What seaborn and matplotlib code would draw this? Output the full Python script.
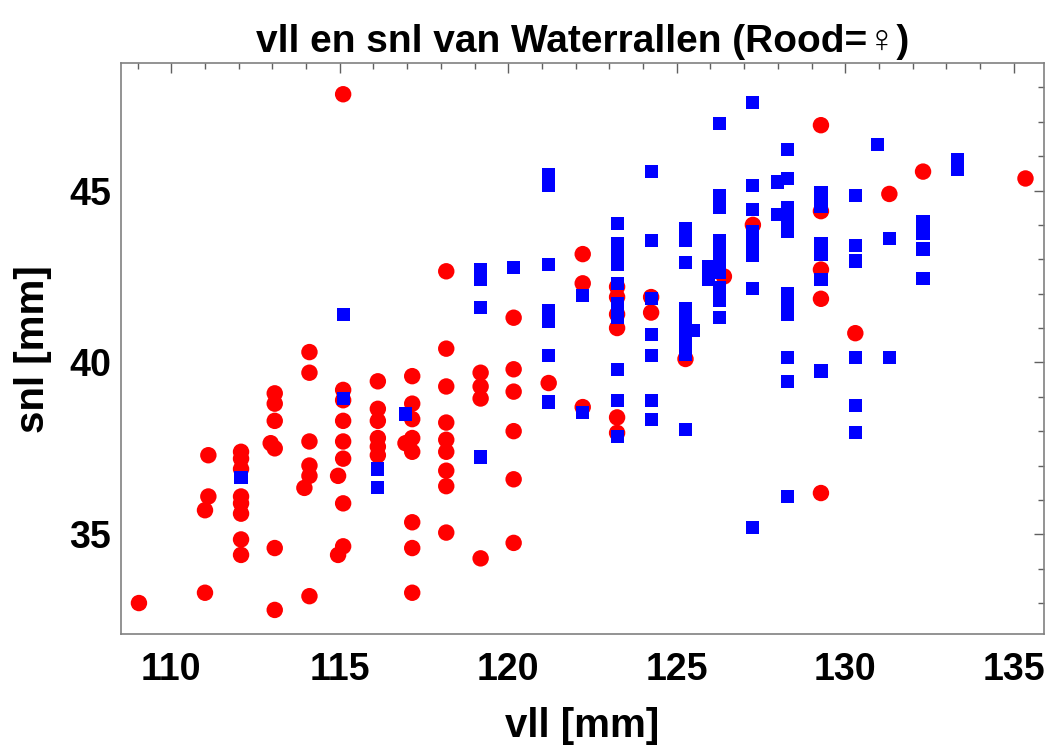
import numpy as np
import pandas as pd
import matplotlib
matplotlib.use("Agg")
import matplotlib.pyplot as plt
import seaborn as sns
from matplotlib.ticker import MultipleLocator

# ---- data (vll = x, snl = y) ----
female_vll = [109.04,
              111.1, 111.1, 111.0, 111.0,
              112.07, 112.07, 112.07, 112.07, 112.07, 112.07, 112.07, 112.07,
              113.07, 113.07, 113.07, 113.07, 112.95, 113.07, 113.07,
              114.1, 114.1, 114.1, 114.1, 114.1, 114.1, 113.95,
              115.1, 115.1, 115.1, 115.1, 115.1, 115.1, 115.1, 115.1, 114.95, 114.95,
              116.13, 116.13, 116.13, 116.13, 116.13, 116.13,
              117.15, 117.15, 117.15, 117.15, 117.15, 117.15, 117.15, 117.15, 116.95,
              118.16, 118.16, 118.16, 118.16, 118.16, 118.16, 118.16, 118.16, 118.16,
              119.18, 119.18, 119.18, 119.18,
              120.16, 120.16, 120.16, 120.16, 120.16, 120.16,
              121.2,
              122.21, 122.21, 122.21,
              123.23, 123.23, 123.23, 123.23, 123.23, 123.23,
              124.24, 124.24,
              125.26,
              126.4,
              127.26,
              129.28, 129.28, 129.28, 129.28, 129.28,
              130.3,
              131.31,
              132.31,
              135.35]
female_snl = [33.0,
              37.3, 36.1, 35.7, 33.3,
              37.4, 37.2, 36.9, 36.1, 35.9, 35.6, 34.85, 34.4,
              39.1, 38.8, 38.3, 37.5, 37.65, 34.6, 32.8,
              40.3, 39.7, 37.7, 37.0, 36.7, 33.2, 36.35,
              47.8, 39.2, 38.9, 38.3, 37.7, 37.2, 35.9, 34.65, 36.7, 34.4,
              39.45, 38.65, 38.3, 37.8, 37.55, 37.3,
              39.6, 38.8, 38.35, 37.8, 37.4, 35.35, 34.6, 33.3, 37.65,
              42.65, 40.4, 39.3, 38.25, 37.75, 37.4, 36.85, 36.4, 35.05,
              39.7, 39.3, 38.95, 34.3,
              41.3, 39.8, 39.15, 38.0, 36.6, 34.75,
              39.4,
              43.15, 42.3, 38.7,
              42.2, 41.9, 41.4, 41.0, 38.4, 37.95,
              41.9, 41.45,
              40.1,
              42.5,
              44.0,
              46.9, 44.4, 42.7, 41.85, 36.2,
              40.85,
              44.9,
              45.55,
              45.35]

male_vll = [112.07,
            115.1, 115.1,
            116.13, 116.13,
            116.95,
            119.18, 119.18, 119.18, 119.18,
            120.16,
            121.2, 121.2, 121.2, 121.2, 121.2, 121.2, 121.2,
            122.21, 122.21,
            123.23, 123.23, 123.23, 123.23, 123.23, 123.23, 123.23, 123.23, 123.23, 123.23,
            124.24, 124.24, 124.24, 124.24, 124.24, 124.24, 124.24,
            125.26, 125.26, 125.26, 125.26, 125.26, 125.26, 125.26, 125.26, 125.26, 125.5,
            126.27, 126.27, 126.27, 126.27, 126.27, 126.27, 126.27, 126.27, 126.27, 126.27, 125.95, 125.95,
            127.26, 127.26, 127.26, 127.26, 127.26, 127.26, 127.26, 127.26,
            128.28, 128.28, 128.28, 128.28, 128.28, 128.28, 128.28, 128.28, 128.28, 128.28, 128.28, 128.0, 128.0,
            129.28, 129.28, 129.28, 129.28, 129.28, 129.28,
            130.3, 130.3, 130.3, 130.3, 130.3, 130.3,
            130.95, 131.31, 131.31,
            132.31, 132.31, 132.31, 132.31,
            133.34, 133.34]
male_snl = [36.65,
            41.4, 38.95,
            36.9, 36.35,
            38.5,
            42.7, 42.4, 41.6, 37.25,
            42.75,
            45.45, 45.15, 42.85, 41.5, 41.2, 40.2, 38.85,
            41.95, 38.55,
            44.05, 43.45, 43.15, 42.85, 42.3, 41.7, 41.3, 39.8, 38.9, 37.85,
            45.55, 43.55, 41.85, 40.8, 40.2, 38.9, 38.35,
            43.9, 43.55, 42.9, 41.57, 41.22, 40.88, 40.54, 40.23, 38.05, 40.92,
            46.95, 44.85, 44.5, 43.55, 43.25, 42.96, 42.62, 42.18, 41.8, 41.31, 42.8, 42.4,
            47.55, 45.15, 44.45, 43.8, 43.45, 43.1, 42.15, 35.2,
            46.2, 45.35, 44.5, 44.15, 43.8, 42.0, 41.7, 41.4, 40.15, 39.45, 36.1, 45.25, 44.3,
            44.95, 44.55, 43.45, 43.15, 42.4, 39.75,
            44.85, 43.4, 42.95, 40.15, 38.75, 37.95,
            46.35, 43.6, 40.15,
            44.1, 43.75, 43.3, 42.45,
            45.9, 45.6]

title = "vll en snl van Waterrallen (Rood=\u2640)"
xlabel = "vll [mm]"
ylabel = "snl [mm]"

df = pd.DataFrame({
    "vll": female_vll + male_vll,
    "snl": female_snl + male_snl,
    "sex": ["F"] * len(female_vll) + ["M"] * len(male_vll),
})

sns.set_theme(style="white")
plt.rcParams["font.family"] = ["Liberation Sans", "DejaVu Sans"]
plt.rcParams["font.weight"] = "bold"
plt.rcParams["text.color"] = "black"
plt.rcParams["axes.labelcolor"] = "black"
plt.rcParams["xtick.labelcolor"] = "black"
plt.rcParams["ytick.labelcolor"] = "black"

fig = plt.figure(figsize=(10.5, 7.51), dpi=100)
ax = fig.add_axes([0.115, 0.1558, 0.8793, 0.7599])

sns.scatterplot(data=df, x="vll", y="snl", hue="sex", style="sex", size="sex",
                palette={"F": "#ff0000", "M": "#0000ff"},
                markers={"F": "o", "M": "s"},
                sizes={"F": 140, "M": 90},
                linewidth=0, legend=False, ax=ax)

ax.set_xlim(108.5, 135.9)
ax.set_ylim(32.1, 48.7)
ax.xaxis.set_major_locator(MultipleLocator(5))
ax.xaxis.set_minor_locator(MultipleLocator(1))
ax.yaxis.set_major_locator(MultipleLocator(5))
ax.yaxis.set_minor_locator(MultipleLocator(1))

frame_col = "#808080"
for sp in ax.spines.values():
    sp.set_color(frame_col)
    sp.set_linewidth(1.2)
ax.tick_params(which="both", direction="in", top=True, right=True,
               color="#606060", width=1.0, labelcolor="black")
ax.tick_params(which="major", length=7)
ax.tick_params(which="minor", length=4)
ax.tick_params(axis="x", which="major", pad=13, labelsize=27)
ax.tick_params(axis="y", which="major", pad=7, labelsize=27)
for lab in ax.get_xticklabels() + ax.get_yticklabels():
    lab.set_fontweight("bold")
    lab.set_color("black")

ax.set_xlabel(xlabel, fontsize=29, fontweight="bold", labelpad=14, color="black")
ax.set_ylabel(ylabel, fontsize=29, fontweight="bold", labelpad=12, color="black")
ax.set_title(title, fontsize=28, fontweight="bold", pad=8, color="black")

fig.savefig("out.png", dpi=100)
